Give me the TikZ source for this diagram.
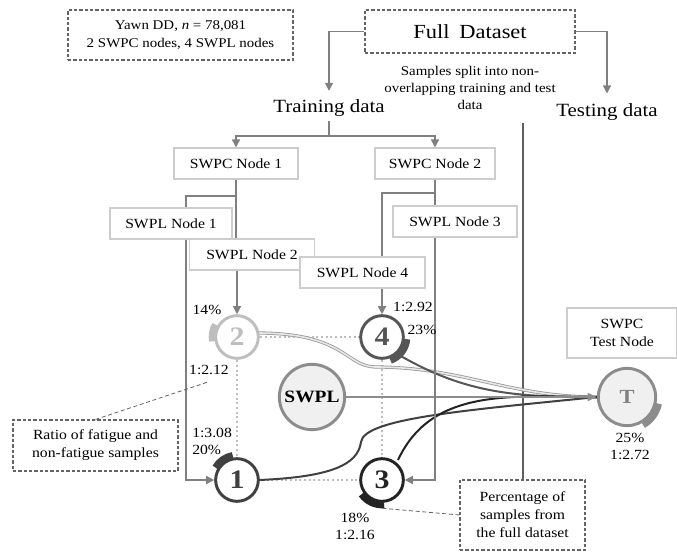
\documentclass[tikz,border=0pt]{standalone}
\usepackage{fontspec}
\setmainfont{Liberation Serif}[FakeStretch=1.12]
\usetikzlibrary{arrows.meta,positioning}
\definecolor{wire}{RGB}{128,128,128}
\definecolor{boxline}{RGB}{205,205,205}
\definecolor{calloutgray}{RGB}{100,100,100}
\definecolor{divider}{RGB}{95,95,95}
\definecolor{paleone}{RGB}{190,190,190}
\definecolor{nodeone}{RGB}{64,64,64}
\definecolor{nodethree}{RGB}{35,35,35}
\definecolor{nodefour}{RGB}{85,85,85}
\definecolor{hubline}{RGB}{140,140,140}
\definecolor{hubfill}{RGB}{240,240,240}

\tikzset{
  wbox/.style={draw=boxline,fill=white,line width=0.8pt,minimum height=23.25pt,inner sep=0pt,
    font=\fontsize{10.5}{14}\selectfont},
  dbox/.style={draw=calloutgray,dash pattern=on 2.5pt off 1.5pt,line width=0.8pt,fill=white,
    align=center,inner sep=0pt,font=\fontsize{10.5}{13.5}\selectfont},
  num/.style={inner sep=0pt,font=\fontsize{10.5}{12.75}\selectfont},
  client/.style={circle,draw,fill=white,line width=2.2pt,minimum size=32pt,inner sep=0pt,
    font=\fontsize{20}{20}\selectfont\bfseries},
  hub/.style={circle,draw=hubline,fill=hubfill,line width=2.2pt,inner sep=0pt},
  link/.style={draw=wire,line width=1pt},
  feed/.style={link,-{Triangle[length=6pt,width=6pt]}},
  share/.style={line width=4.5pt},
  flow/.style={line width=1.5pt},
  meshline/.style={draw=paleone,dotted,line width=1.5pt},
  callout/.style={draw=calloutgray,densely dashed,line width=0.6pt}
}

\begin{document}
\begin{tikzpicture}[x=0.75pt,y=-0.75pt]
  \useasboundingbox (0,0) rectangle (677,552);

  \node[dbox,minimum width=168.75pt,minimum height=37.5pt,font=\fontsize{10}{13.5}\selectfont] (yawn) at (180.5,35)
    {Yawn DD, \textit{n} = 78,081\\2 SWPC nodes, 4 SWPL nodes};
  \node[dbox,minimum width=157.5pt,minimum height=32.25pt,font=\fontsize{15}{15}\selectfont] (full) at (470,31.5) {Full\enspace Dataset};
  \node[align=center,inner sep=0pt,font=\fontsize{10}{13}\selectfont] (note) at (470,88)
    {Samples split into non-\\overlapping training and test\\data};
  \node[font=\fontsize{14}{14}\selectfont] (train) at (329,108) {Training data};
  \node[font=\fontsize{14}{14}\selectfont] (test) at (607,112) {Testing data};

  \node[dbox,minimum width=123.75pt,minimum height=38.25pt] (ratio) at (95.5,445.5)
    {Ratio of fatigue and\\non-fatigue samples};
  \node[dbox,minimum width=93.75pt,minimum height=52.5pt] (perc) at (522.5,515)
    {Percentage of\\samples from\\the full dataset};

  \coordinate (divtop) at (523,123);
  \draw[divider,line width=0.8pt] (divtop) -- (perc.north -| divtop);

  \draw[feed,shorten >=3pt] (full.west) -| (train.north);
  \draw[feed,shorten >=4pt] (full.east) -| (test.north);
  \coordinate (split) at (329,136);
  \draw[link] (train.south) -- (split);

  \foreach \name/\x/\y/\w/\t in {
    pc1/236/163.5/124/SWPC Node 1,
    pc2/435/163.5/120/SWPC Node 2,
    pl1/171/223.5/122/SWPL Node 1,
    pl3/455/221.5/124/SWPL Node 3,
    pl2/252/254.5/125/SWPL Node 2,
    pl4/362.5/272.5/125/SWPL Node 4}
  {
    \node[wbox,minimum width=\w*0.75pt] (\name) at (\x,\y) {\t};
  }
  \node[wbox,minimum width=82.5pt,minimum height=37.5pt,align=center] (tn) at (622,333) {SWPC\\Test Node};

  \draw[feed] (split) -| (pc1.north);
  \draw[feed] (split) -| (pc2.north);

  \foreach \d/\x/\y/\c in {1/237/480/nodeone,2/237/337/paleone,3/382/480/nodethree,4/382/337/nodefour}
  {
    \coordinate (c\d) at (\x,\y);
  }
  \draw[meshline] (c2) -- (c4) -- (c3) -- (c1) -- cycle;

  \draw[link] (pc1.south) -- (pc1.south |- pl2.north);
  \draw[link] (pc1.south |- 0,196) -| (pl1.north -| 186,0);
  \draw[link] (pc2.south) -- (pl3.north -| pc2.south);
  \draw[link] (pc2.south |- 0,193) -| (pl4.north -| c4);

  \node[hub,minimum size=49pt,font=\fontsize{13}{13}\selectfont\bfseries] (swpl) at (312,397) {SWPL};
  \node[hub,minimum size=43pt,text=gray,font=\fontsize{15}{15}\selectfont\bfseries] (T) at (627,397) {T};
  \draw[share,draw=hubline] (T.center) ++(-60:24.5pt) arc[start angle=-60,end angle=-12,radius=24.5pt];

  \draw[draw=paleone!80!black,double=gray!18,double distance=1.2pt,line width=0.6pt]
    (c2) ++(20,-4) .. controls (345,333) and (345,366) .. (375,367) to[out=0,in=180] (T.west);
  \draw[flow,draw=nodefour] (c4) ++(17,18) to[out=-30,in=180] (T.west);
  \draw[flow,draw=nodeone] (c1) ++(22,0) .. controls (330,477) and (358,465) .. (361,442)
    .. controls (364,418) and (470,410) .. (T.west);
  \draw[flow,draw=nodethree] (c3) ++(16,-20) to[out=65,in=180] (T.west);
  \draw[link,line width=1.5pt,draw=hubline,-{Triangle[length=7pt,width=6pt]}] (swpl.east) -- (T.west);

  \foreach \d/\c in {1/nodeone,2/paleone,3/nodethree,4/nodefour}
  {
    \node[client,draw=\c,text=\c] (n\d) at (c\d) {\d};
  }
  \foreach \d/\a/\b/\c in {1/100/150/nodeone,2/150/190/paleone,3/215/275/nodethree,4/-70/-5/nodefour}
  {
    \draw[share,draw=\c] (n\d.center) ++(\a:19pt) arc[start angle=\a,end angle=\b,radius=19pt];
  }

  \draw[feed] (pl1.south -| 186,0) |- (n1.west);
  \draw[feed] (pl2.south -| n2) -- (n2.north);
  \draw[feed] (pl4.south -| n4) -- (n4.north);
  \draw[feed] (pl3.south -| pc2.south) |- (n3.east);

  \node[num] (p2) at (207,310) {14\%};
  \node[num] (q2) at (209,370) {1:2.12};
  \node[num] (q4) at (413,307) {1:2.92};
  \node[num] (p4) at (422,330) {23\%};
  \node[num,anchor=west,align=left] (s1) at (192,441) {1:3.08\\20\%};
  \node[num,align=center] (s3) at (355,526) {18\%\\1:2.16};
  \node[num,align=center] (sT) at (630,446) {25\%\\1:2.72};

  \draw[callout] (ratio.north) -- ([yshift=-5pt]q2.south);
  \draw[callout] (perc.west) -- ([yshift=-4pt]n3.265);
\end{tikzpicture}
\end{document}
